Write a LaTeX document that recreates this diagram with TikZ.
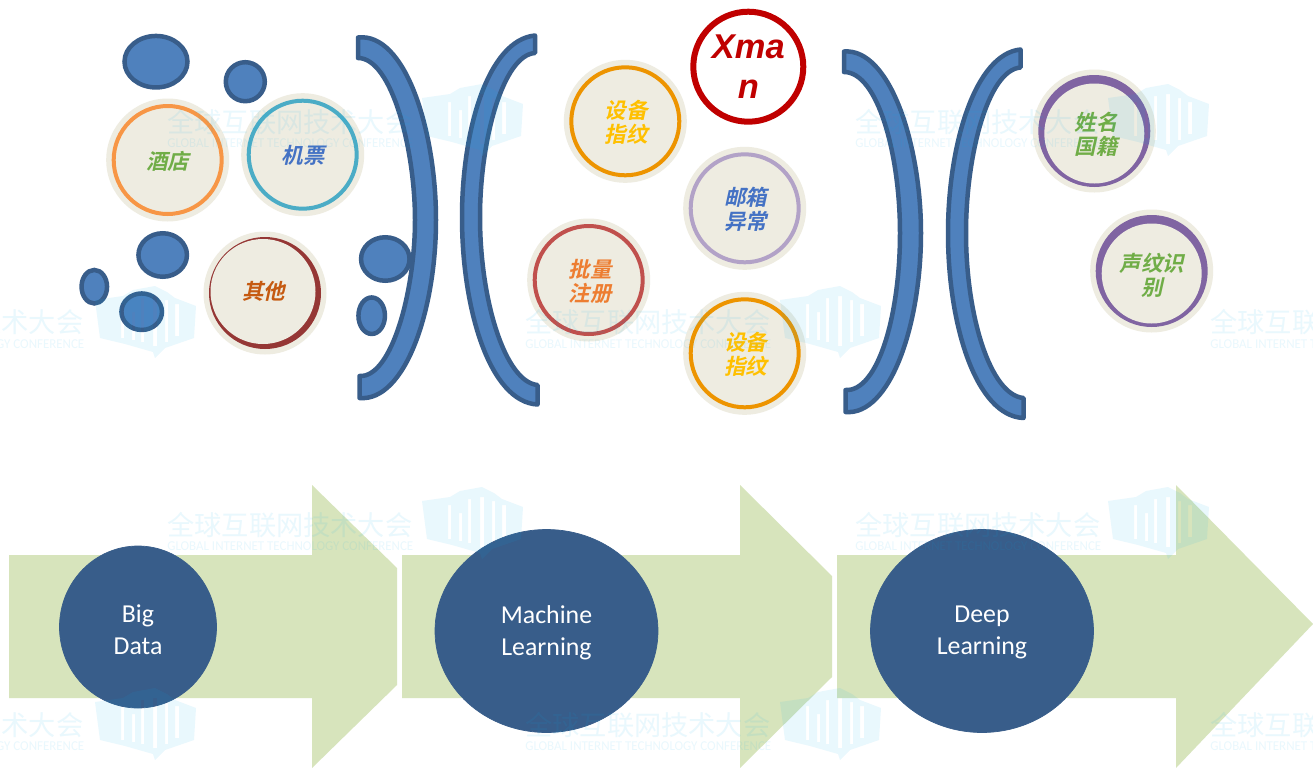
\documentclass[tikz,border=0pt]{standalone}
\usepackage{fontspec}
\usetikzlibrary{shapes.geometric}
\newfontfamily\cjkb[FakeSlant=0.22]{Noto Sans CJK SC Bold}
\newfontfamily\cjkw{Noto Sans CJK SC}
\newfontfamily\carl{Carlito}
\newfontfamily\libs{Liberation Sans}
\newdimen\un \un=0.02cm
\definecolor{halofill}{HTML}{EEECE1}
\definecolor{blobfill}{HTML}{4F81BD}
\definecolor{blobline}{HTML}{385D8A}
\definecolor{arrowfill}{HTML}{D7E4BC}
\definecolor{navy}{HTML}{385D8A}
\definecolor{ringorange}{HTML}{F79646}
\definecolor{ringteal}{HTML}{4BACC6}
\definecolor{ringred}{HTML}{953735}
\definecolor{ringamber}{HTML}{ED9400}
\definecolor{ringlav}{HTML}{B2A2C7}
\definecolor{ringrose}{HTML}{C0504D}
\definecolor{ringpurple}{HTML}{8064A2}
\definecolor{xred}{HTML}{C00000}
\definecolor{txtgreen}{HTML}{70AD47}
\definecolor{txtblue}{HTML}{4472C4}
\definecolor{txtbrown}{HTML}{C55A11}
\definecolor{txtyellow}{HTML}{FFC000}
\definecolor{txtorange}{HTML}{ED7D31}
\definecolor{wmcol}{HTML}{00AEEF}
\tikzset{
  halo/.style={circle,fill=halofill,inner sep=0pt,minimum size=123\un},
  ringnode/.style={circle,draw=#1,line width=4\un,fill=halofill,inner sep=0pt,minimum size=108\un},
  cjklabel/.style={inner sep=0pt,align=center,font=\cjkb\fontsize{12.2}{13.6}\selectfont},
  solidring/.style={circle,fill=#1,inner sep=0pt,minimum size=112\un},
  innerdisc/.style={circle,fill=halofill,inner sep=0pt,minimum size=#1\un},
  blob/.style 2 args={ellipse,draw=blobline,fill=blobfill,line width=4.5\un,inner sep=0pt,minimum width=#1\un,minimum height=#2\un},
  paren/.style={draw=blobline,fill=blobfill,line width=4.5\un,line join=round},
  bigarrow/.style={fill=arrowfill,draw=none},
  stage/.style 2 args={ellipse,fill=navy,draw=navy,inner sep=0pt,minimum width=#1\un,minimum height=#2\un},
  stagelabel/.style={inner sep=0pt,align=center,text=white,font=\carl\fontsize{14.7}{18}\selectfont},
}
\newcommand{\wmlogo}[2]{%
  \fill[wmcol,opacity=.085,even odd rule,shift={(#1,#2)}]
    (0,14) -- (28,10) -- (38,4) -- (60,0) -- (72,6) -- (80,12) -- (101,20) -- (99,52) -- (70,62) -- (60,72) -- (58,66) -- (30,58) -- (5,52) -- cycle
    (26,18) -- (29,18) -- (29,52) -- (26,52) -- cycle
    (37,26) -- (40,26) -- (40,54) -- (37,54) -- cycle
    (46,12) -- (49,12) -- (49,56) -- (46,56) -- cycle
    (58,10) -- (62,10) -- (62,60) -- (58,60) -- cycle
    (70,14) -- (73,14) -- (73,56) -- (70,56) -- cycle
    (80,18) -- (84,18) -- (84,50) -- (80,50) -- cycle;}
\newcommand{\wmtext}[4]{%
  \node[anchor=west,inner sep=0pt,opacity=.085,text=wmcol,font=\cjkw\fontsize{15.5}{16}\selectfont] (wmc#4) at (#1,#2) {全球互联网技术大会};
  \node[anchor=west,inner sep=0pt,opacity=.085,text=wmcol] (wme#4) at (#1,#3) {\resizebox{140pt}{5pt}{\carl GLOBAL INTERNET TECHNOLOGY CONFERENCE}};}
\begin{document}
\begin{tikzpicture}[x=0.02cm,y=-0.02cm]
\useasboundingbox (0,0) rectangle (1313,768);
\fill[white] (0,0) rectangle (1313,768);
\begin{scope}
\clip (0,0) rectangle (1313,768);

% big arrows
\fill[bigarrow] (9,555) -- (312,555) -- (312,485) -- (397,568) -- (397,685) -- (312,768) -- (312,698) -- (9,698) -- cycle;
\fill[bigarrow] (402,555) -- (740,555) -- (740,485) -- (832,576) -- (832,677) -- (740,768) -- (740,698) -- (402,698) -- cycle;
\fill[bigarrow] (837,555) -- (1176,555) -- (1176,485) -- (1313,624) -- (1176,768) -- (1176,698) -- (837,698) -- cycle;
\node[stage={157}{162}] (bd) at (138,627) {};
\node[stagelabel] (bdt) at (138,629.5) {Big\\Data};
\node[stage={223}{203}] (ml) at (546.5,631) {};
\node[stagelabel] (mlt) at (546.5,632.5) {Machine\\Learning};
\node[stage={223}{203}] (dl) at (982,631) {};
\node[stagelabel] (dlt) at (982,632.5) {Deep\\Learning};

% parentheses
\path[paren] (358,37.5) .. controls (405,32) and (436,130) .. (436,220) .. controls (436,310) and (405,402) .. (359.5,398)
  -- (359.5,376) .. controls (392,378) and (415,290) .. (415,220) .. controls (415,150) and (392,58) .. (358,58) -- cycle;
\path[paren] (535,35.5) .. controls (488,40) and (462,130) .. (462,217) .. controls (462,310) and (490,402) .. (537.5,404.5)
  -- (537.5,385) .. controls (505,382) and (480,300) .. (480,217) .. controls (480,140) and (503,55) .. (535,53) -- cycle;
\path[paren] (844,51.5) .. controls (890,48) and (921,145) .. (921,233) .. controls (921,325) and (890,416) .. (845.5,412)
  -- (845.5,390) .. controls (878,392) and (900,315) .. (900,233) .. controls (900,155) and (878,72) .. (844,72) -- cycle;
\path[paren] (1020.5,49.5) .. controls (975,54) and (948,145) .. (948,233) .. controls (948,325) and (976,416) .. (1023.5,418)
  -- (1023.5,398) .. controls (990,395) and (966,315) .. (966,233) .. controls (966,155) and (988,70) .. (1020.5,67.5) -- cycle;

% blobs
\node[blob={63}{51.5}] (b1) at (156,61.7) {};
\node[blob={39}{39}] (b2) at (245.3,81.7) {};
\node[blob={48.5}{43.5}] (b3) at (162.7,255) {};
\node[blob={25.5}{33.5}] (b4) at (94.3,286.7) {};
\node[blob={40.5}{36.5}] (b5) at (141.7,311.7) {};
\node[blob={48.5}{43.5}] (b6) at (385.3,259) {};
\node[blob={26.5}{36.5}] (b7) at (371.7,315.7) {};

% discs with a plain ring
\node[halo] (h1) at (167.7,160) {};
\node[ringnode=ringorange] (hotel) at (167.7,160) {};
\node[cjklabel,text=txtgreen] (hotelt) at (167.7,161) {酒店};
\node[halo] (h2) at (302.7,154.7) {};
\node[ringnode=ringteal] (ticket) at (302.7,154.7) {};
\node[cjklabel,text=txtblue] (tickett) at (303,155.5) {机票};
\node[halo] (h3) at (265,293) {};
\node[solidring=ringred] (r3) at (265,293) {};
\node[innerdisc=105] (other) at (263,291.5) {};
\node[cjklabel,text=txtbrown] (othert) at (263.5,291.5) {其他};

\node[halo] (h4) at (625.3,121.3) {};
\node[ringnode=ringamber] (dev1) at (625.3,121.3) {};
\node[cjklabel,text=txtyellow] (dev1t) at (626,122.5) {设备\\指纹};
\node[halo] (h5) at (744.7,208.3) {};
\node[ringnode=ringlav] (mail) at (744.7,208.3) {};
\node[cjklabel,text=txtblue] (mailt) at (745.5,209.5) {邮箱\\异常};
\node[halo] (h6) at (588.7,280) {};
\node[ringnode=ringrose] (reg) at (588.7,280) {};
\node[cjklabel,text=txtorange] (regt) at (590,281.5) {批量\\注册};
\node[halo] (h7) at (744.7,353.3) {};
\node[ringnode=ringamber] (dev2) at (744.7,353.3) {};
\node[cjklabel,text=txtyellow] (dev2t) at (745.5,354.5) {设备\\指纹};

% Xman
\node[circle,draw=xred,fill=white,line width=6\un,inner sep=0pt,minimum size=110\un,align=center,text=xred,
   font=\libs\bfseries\itshape\fontsize{19.6}{22.7}\selectfont] (xman) at (748.3,66.7) {Xma\\n};

% discs with a crescent ring
\node[halo] (h8) at (1094.3,131) {};
\node[solidring=ringpurple] (r8) at (1094.3,131) {};
\node[innerdisc=100] (i8) at (1094.3,133.5) {};
\node[cjklabel,text=txtgreen] (name) at (1096,134) {姓名\\国籍};
\node[halo] (h9) at (1151.7,271) {};
\node[solidring=ringpurple] (r9) at (1151.7,271) {};
\node[innerdisc=100] (i9) at (1151.7,273.5) {};
\node[cjklabel,text=txtgreen] (voice) at (1152,275) {声纹识\\别};

% watermarks
\wmtext{167}{122}{143}{a}\wmlogo{422}{84}
\wmtext{855}{122}{143}{b}\wmlogo{1108}{84}
\wmtext{-162}{322}{344}{c}\wmlogo{95}{286}
\wmtext{525}{322}{344}{d}\wmlogo{780}{286}
\wmtext{1210}{322}{344}{e}
\wmtext{167}{525}{546}{f}\wmlogo{422}{487}
\wmtext{855}{525}{546}{g}\wmlogo{1108}{487}
\wmtext{-162}{725}{746}{h}\wmlogo{95}{688}
\wmtext{525}{725}{746}{i}\wmlogo{780}{688}
\wmtext{1210}{725}{746}{j}
\end{scope}
\end{tikzpicture}
\end{document}
